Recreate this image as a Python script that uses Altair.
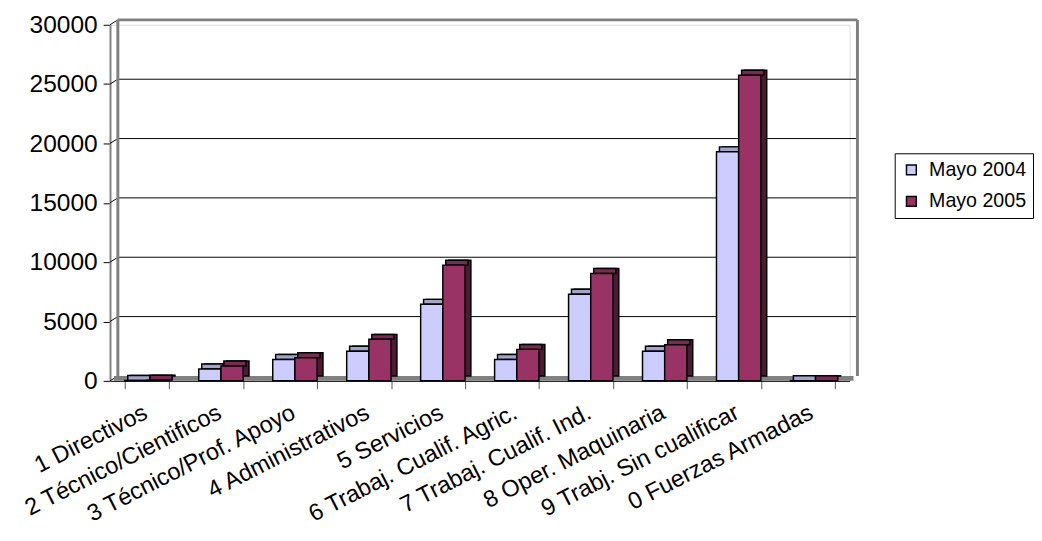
import altair as alt
import pandas as pd

categories = ["1 Directivos", "2 Técnico/Cientificos", "3 Técnico/Prof. Apoyo",
              "4 Administrativos", "5 Servicios", "6 Trabaj. Cualif. Agric.",
              "7 Trabaj. Cualif. Ind.", "8 Oper. Maquinaria",
              "9 Trabj. Sin cualificar", "0 Fuerzas Armadas"]
mayo_2004 = [40, 1000, 1800, 2500, 6450, 1800, 7300, 2500, 19300, 10]
mayo_2005 = [60, 1250, 1950, 3500, 9750, 2650, 9050, 3050, 25750, 10]
series = ["Mayo 2004", "Mayo 2005"]
y_ticks = [0, 5000, 10000, 15000, 20000, 25000, 30000]

W, H = 754, 363
DX, DY = 6, 5      # bar depth
WX, WY = 8, 5      # wall depth
FONT = "Liberation Sans"

rows = []
for c, a, b in zip(categories, mayo_2004, mayo_2005):
    rows.append({"cat": c, "series": series[0], "value": a})
    rows.append({"cat": c, "series": series[1], "value": b})
df = pd.DataFrame(rows)
ticks_df = pd.DataFrame({"t": y_ticks})

xs = alt.Scale(domain=categories, paddingInner=0.4, paddingOuter=0.2)
ys = alt.Scale(domain=[0, 30000], nice=False)

front_col = {"Mayo 2004": "#CCCCFF", "Mayo 2005": "#993366"}
top_col = {"Mayo 2004": "#A3A3CC", "Mayo 2005": "#7A2952"}
side_col = {"Mayo 2004": "#8A8AB8", "Mayo 2005": "#4C1A33"}
shift = {"Mayo 2004": -11.3, "Mayo 2005": 11.3}

base = alt.Chart(df)

xenc = alt.X("cat:N", scale=xs, sort=categories,
             axis=alt.Axis(title=None, labelAngle=-27, labelAlign="right",
                           labelBaseline="top", labelFontSize=24, labelFont=FONT,
                           labelColor="black", labelPadding=12, labelOffset=-7,
                           tickBand="extent",
                           tickSize=8, tickColor="#555555", domainColor="black",
                           domainWidth=1, labelLimit=400))
yenc = alt.Y("value:Q", scale=ys,
             axis=alt.Axis(title=None, values=y_ticks, grid=False, format="d",
                           labelFontSize=25, labelFont=FONT, labelColor="black",
                           tickColor="black", tickSize=7, labelPadding=6,
                           domainColor="#808080", domainWidth=2))

# back wall gridlines and connectors
grid = alt.Chart(ticks_df).transform_filter("datum.t > 0 && datum.t < 30000").mark_rule(
    color="black", strokeWidth=1, yOffset=-WY).encode(
    y=alt.Y("t:Q", scale=ys), x=alt.value(WX), x2=alt.value(W + WX))
conn = alt.Chart(ticks_df).mark_rule(color="black", strokeWidth=1, y2Offset=-WY).encode(
    y=alt.Y("t:Q", scale=ys), y2="t:Q", x=alt.value(0), x2=alt.value(WX))
wall_top = alt.Chart(ticks_df).transform_filter("datum.t == 30000").mark_rule(
    color="#808080", strokeWidth=3, yOffset=-WY).encode(
    y=alt.Y("t:Q", scale=ys), x=alt.value(WX), x2=alt.value(W + WX))
wall_left = alt.Chart(ticks_df).transform_filter("datum.t == 30000").mark_rule(
    color="#808080", strokeWidth=3, yOffset=-WY, y2Offset=-WY).encode(
    y=alt.Y("t:Q", scale=ys), y2=alt.datum(0), x=alt.value(WX))
wall_right = alt.Chart(ticks_df).transform_filter("datum.t == 30000").mark_rule(
    color="#808080", strokeWidth=3, yOffset=-WY, y2Offset=-WY).encode(
    y=alt.Y("t:Q", scale=ys), y2=alt.datum(0), x=alt.value(W + WX))
floor = alt.Chart(ticks_df).transform_filter("datum.t == 0").mark_rule(
    color="#808080", strokeWidth=WY, yOffset=-WY / 2).encode(
    y=alt.Y("t:Q", scale=ys), x=alt.value(WX / 2), x2=alt.value(W + WX / 2))

layers = [grid, conn, wall_top, wall_left, wall_right, floor]
for s in series:
    sub = base.transform_filter(alt.datum.series == s)
    depth = sub.mark_bar(width=alt.RelativeBandSize(0.5), xOffset=shift[s] + DX,
                         yOffset=-DY, y2Offset=-DY, fill=side_col[s],
                         stroke="black", strokeWidth=1.5).encode(x=xenc, y=yenc)
    top = sub.mark_bar(width=alt.RelativeBandSize(0.5), xOffset=shift[s] + DX / 2,
                       yOffset=-DY, fill=top_col[s], stroke="black",
                       strokeWidth=1.5).encode(x=xenc, y=yenc, y2="value:Q")
    front = sub.mark_bar(width=alt.RelativeBandSize(0.5), xOffset=shift[s],
                         stroke="black", strokeWidth=1.5).encode(
        x=xenc, y=yenc,
        color=alt.Color("series:N",
                        scale=alt.Scale(domain=series,
                                        range=[front_col[k] for k in series]),
                        legend=alt.Legend(title=None, orient="none",
                                          legendX=800, legendY=131,
                                          labelFontSize=20, labelFont=FONT,
                                          labelColor="black",
                                          symbolType="square", symbolSize=100,
                                          symbolStrokeColor="black",
                                          symbolStrokeWidth=1.5,
                                          symbolOpacity=1,
                                          strokeColor="black", fillColor="white",
                                          padding=7, rowPadding=12,
                                          labelOffset=8)))
    layers += [depth, top, front]

chart = alt.layer(*layers).properties(
    width=W, height=H, padding={"left": 12, "top": 0, "right": 0, "bottom": 0}
).configure_view(stroke=None).configure(background="white")

chart.save("out.html", embed_options={"renderer": "svg", "actions": False})
